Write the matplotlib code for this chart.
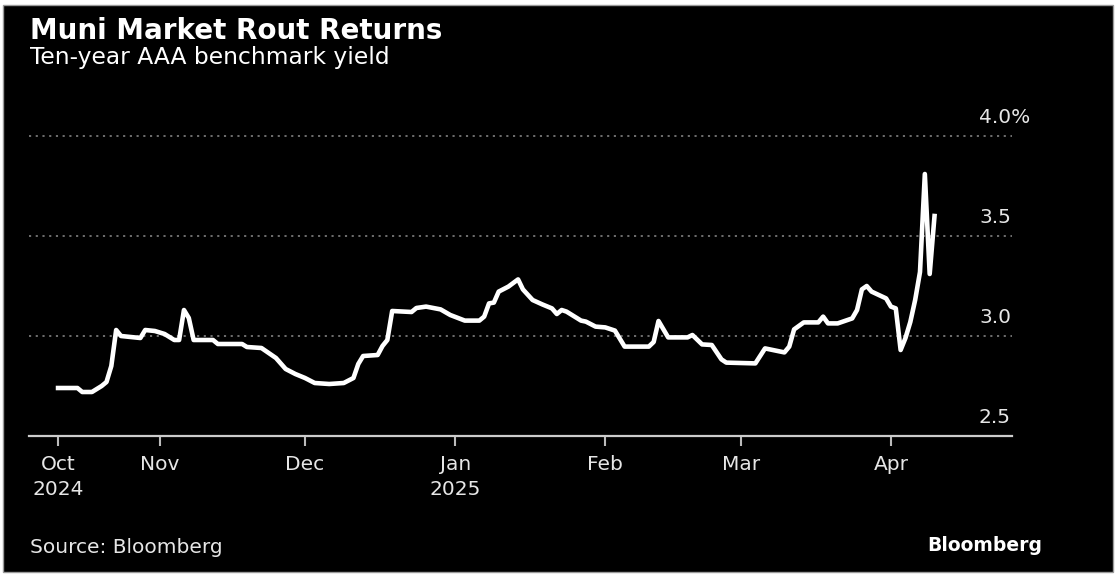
import pandas as pd
import matplotlib
matplotlib.use("Agg")
import matplotlib.pyplot as plt
from matplotlib.patches import Rectangle

# Ten-year AAA muni benchmark yield (turning points)
dates = [
    "2024-10-11", "2024-10-15", "2024-10-16", "2024-10-18", "2024-10-20", "2024-10-21",
    "2024-10-22", "2024-10-23", "2024-10-24", "2024-10-28", "2024-10-29", "2024-10-31",
    "2024-11-02", "2024-11-04", "2024-11-05", "2024-11-06", "2024-11-07", "2024-11-08",
    "2024-11-12", "2024-11-13", "2024-11-18", "2024-11-19", "2024-11-22", "2024-11-25",
    "2024-11-27", "2024-11-29", "2024-12-01", "2024-12-03", "2024-12-06", "2024-12-09",
    "2024-12-11", "2024-12-12", "2024-12-13", "2024-12-16", "2024-12-17", "2024-12-18",
    "2024-12-19", "2024-12-23", "2024-12-24", "2024-12-26", "2024-12-29", "2024-12-31",
    "2025-01-03", "2025-01-06", "2025-01-07", "2025-01-08", "2025-01-09", "2025-01-10",
    "2025-01-12", "2025-01-14", "2025-01-15", "2025-01-17", "2025-01-19", "2025-01-21",
    "2025-01-22", "2025-01-23", "2025-01-24", "2025-01-27", "2025-01-28", "2025-01-30",
    "2025-02-01", "2025-02-03", "2025-02-05", "2025-02-10", "2025-02-11", "2025-02-12",
    "2025-02-14", "2025-02-18", "2025-02-19", "2025-02-21", "2025-02-23", "2025-02-25",
    "2025-02-26", "2025-03-04", "2025-03-06", "2025-03-07", "2025-03-10", "2025-03-11",
    "2025-03-12", "2025-03-14", "2025-03-17", "2025-03-18", "2025-03-19", "2025-03-21",
    "2025-03-24", "2025-03-25", "2025-03-26", "2025-03-27", "2025-03-28", "2025-03-31",
    "2025-04-01", "2025-04-02", "2025-04-03", "2025-04-04", "2025-04-05", "2025-04-06",
    "2025-04-07", "2025-04-08", "2025-04-09", "2025-04-10",
]
yields = [
    2.74, 2.74, 2.72, 2.72, 2.75, 2.77,
    2.85, 3.03, 3.00, 2.99, 3.03, 3.025,
    3.01, 2.98, 2.98, 3.13, 3.09, 2.98,
    2.98, 2.96, 2.96, 2.945, 2.94, 2.89,
    2.835, 2.81, 2.79, 2.765, 2.76, 2.765,
    2.79, 2.86, 2.90, 2.905, 2.95, 2.98,
    3.125, 3.12, 3.14, 3.147, 3.133, 3.105,
    3.077, 3.077, 3.097, 3.163, 3.167, 3.222,
    3.247, 3.283, 3.233, 3.18, 3.158, 3.138,
    3.11, 3.13, 3.122, 3.077, 3.072, 3.047,
    3.043, 3.027, 2.947, 2.947, 2.97, 3.075,
    2.993, 2.993, 3.005, 2.958, 2.955, 2.883,
    2.867, 2.863, 2.938, 2.933, 2.918, 2.947,
    3.033, 3.068, 3.068, 3.097, 3.063, 3.063,
    3.088, 3.13, 3.233, 3.25, 3.222, 3.188,
    3.147, 3.138, 2.93, 2.99, 3.07, 3.18,
    3.32, 3.81, 3.31, 3.60,
]

tick_dates = ["2024-10-11", "2024-11-01", "2024-12-01", "2025-01-01",
              "2025-02-01", "2025-03-01", "2025-04-01"]
tick_labels = ["Oct\n2024", "Nov", "Dec", "Jan\n2025", "Feb", "Mar", "Apr"]
y_ticks = [2.5, 3.0, 3.5, 4.0]
y_labels = ["2.5", "3.0", "3.5", "4.0%"]

W, H = 1120, 577
fig = plt.figure(figsize=(W / 100, H / 100), dpi=100)
fig.patch.set_facecolor("white")

# black card with a thin grey frame
fig.add_artist(Rectangle((3 / W, 1 - 572 / H), 1110 / W, 567 / H,
                         transform=fig.transFigure, facecolor="black",
                         edgecolor="#9a9a9a", lw=1, zorder=0))

ax = fig.add_axes([29 / W, 1 - 436 / H, (1012 - 29) / W, (436 - 100) / H])
ax.set_facecolor("none")

x = pd.to_datetime(dates)
ax.plot(x, yields, color="white", lw=3.3, solid_joinstyle="round", zorder=3)

ax.set_xlim(pd.Timestamp("2024-10-05"), pd.Timestamp("2025-04-26"))
ax.set_ylim(2.5, 4.18)

ax.set_yticks(y_ticks)
ax.grid(axis="y", color="#8c8c8c", lw=1.1, linestyle=(0, (1.4, 3.0)))
ax.tick_params(axis="y", length=0, labelleft=False)
for v, lab in zip(y_ticks, y_labels):
    ax.annotate(lab, xy=(1, v), xycoords=("axes fraction", "data"),
                xytext=(-33, 13), textcoords="offset pixels",
                ha="left", va="baseline", color="#e6e6e6", fontsize=14.5)

ax.set_xticks(pd.to_datetime(tick_dates))
ax.set_xticklabels(tick_labels, linespacing=1.35)
ax.tick_params(axis="x", direction="out", length=7, width=1.5, color="#bbbbbb",
               labelcolor="#e6e6e6", labelsize=14.5, pad=7)

for side in ["top", "right", "left"]:
    ax.spines[side].set_visible(False)
ax.spines["bottom"].set_color("#cccccc")
ax.spines["bottom"].set_linewidth(1.6)

fig.text(30 / W, 1 - 39 / H, "Muni Market Rout Returns", color="white",
         fontsize=20, fontweight="bold", va="baseline")
fig.text(30 / W, 1 - 64 / H, "Ten-year AAA benchmark yield", color="white",
         fontsize=16.8, va="baseline")
fig.text(30 / W, 1 - 553 / H, "Source: Bloomberg", color="#e6e6e6",
         fontsize=14.5, va="baseline")
fig.text(1042 / W, 1 - 551 / H, "Bloomberg", color="white",
         fontsize=13.5, fontweight="bold", va="baseline", ha="right")

fig.savefig("out.png", dpi=100, facecolor=fig.get_facecolor())
